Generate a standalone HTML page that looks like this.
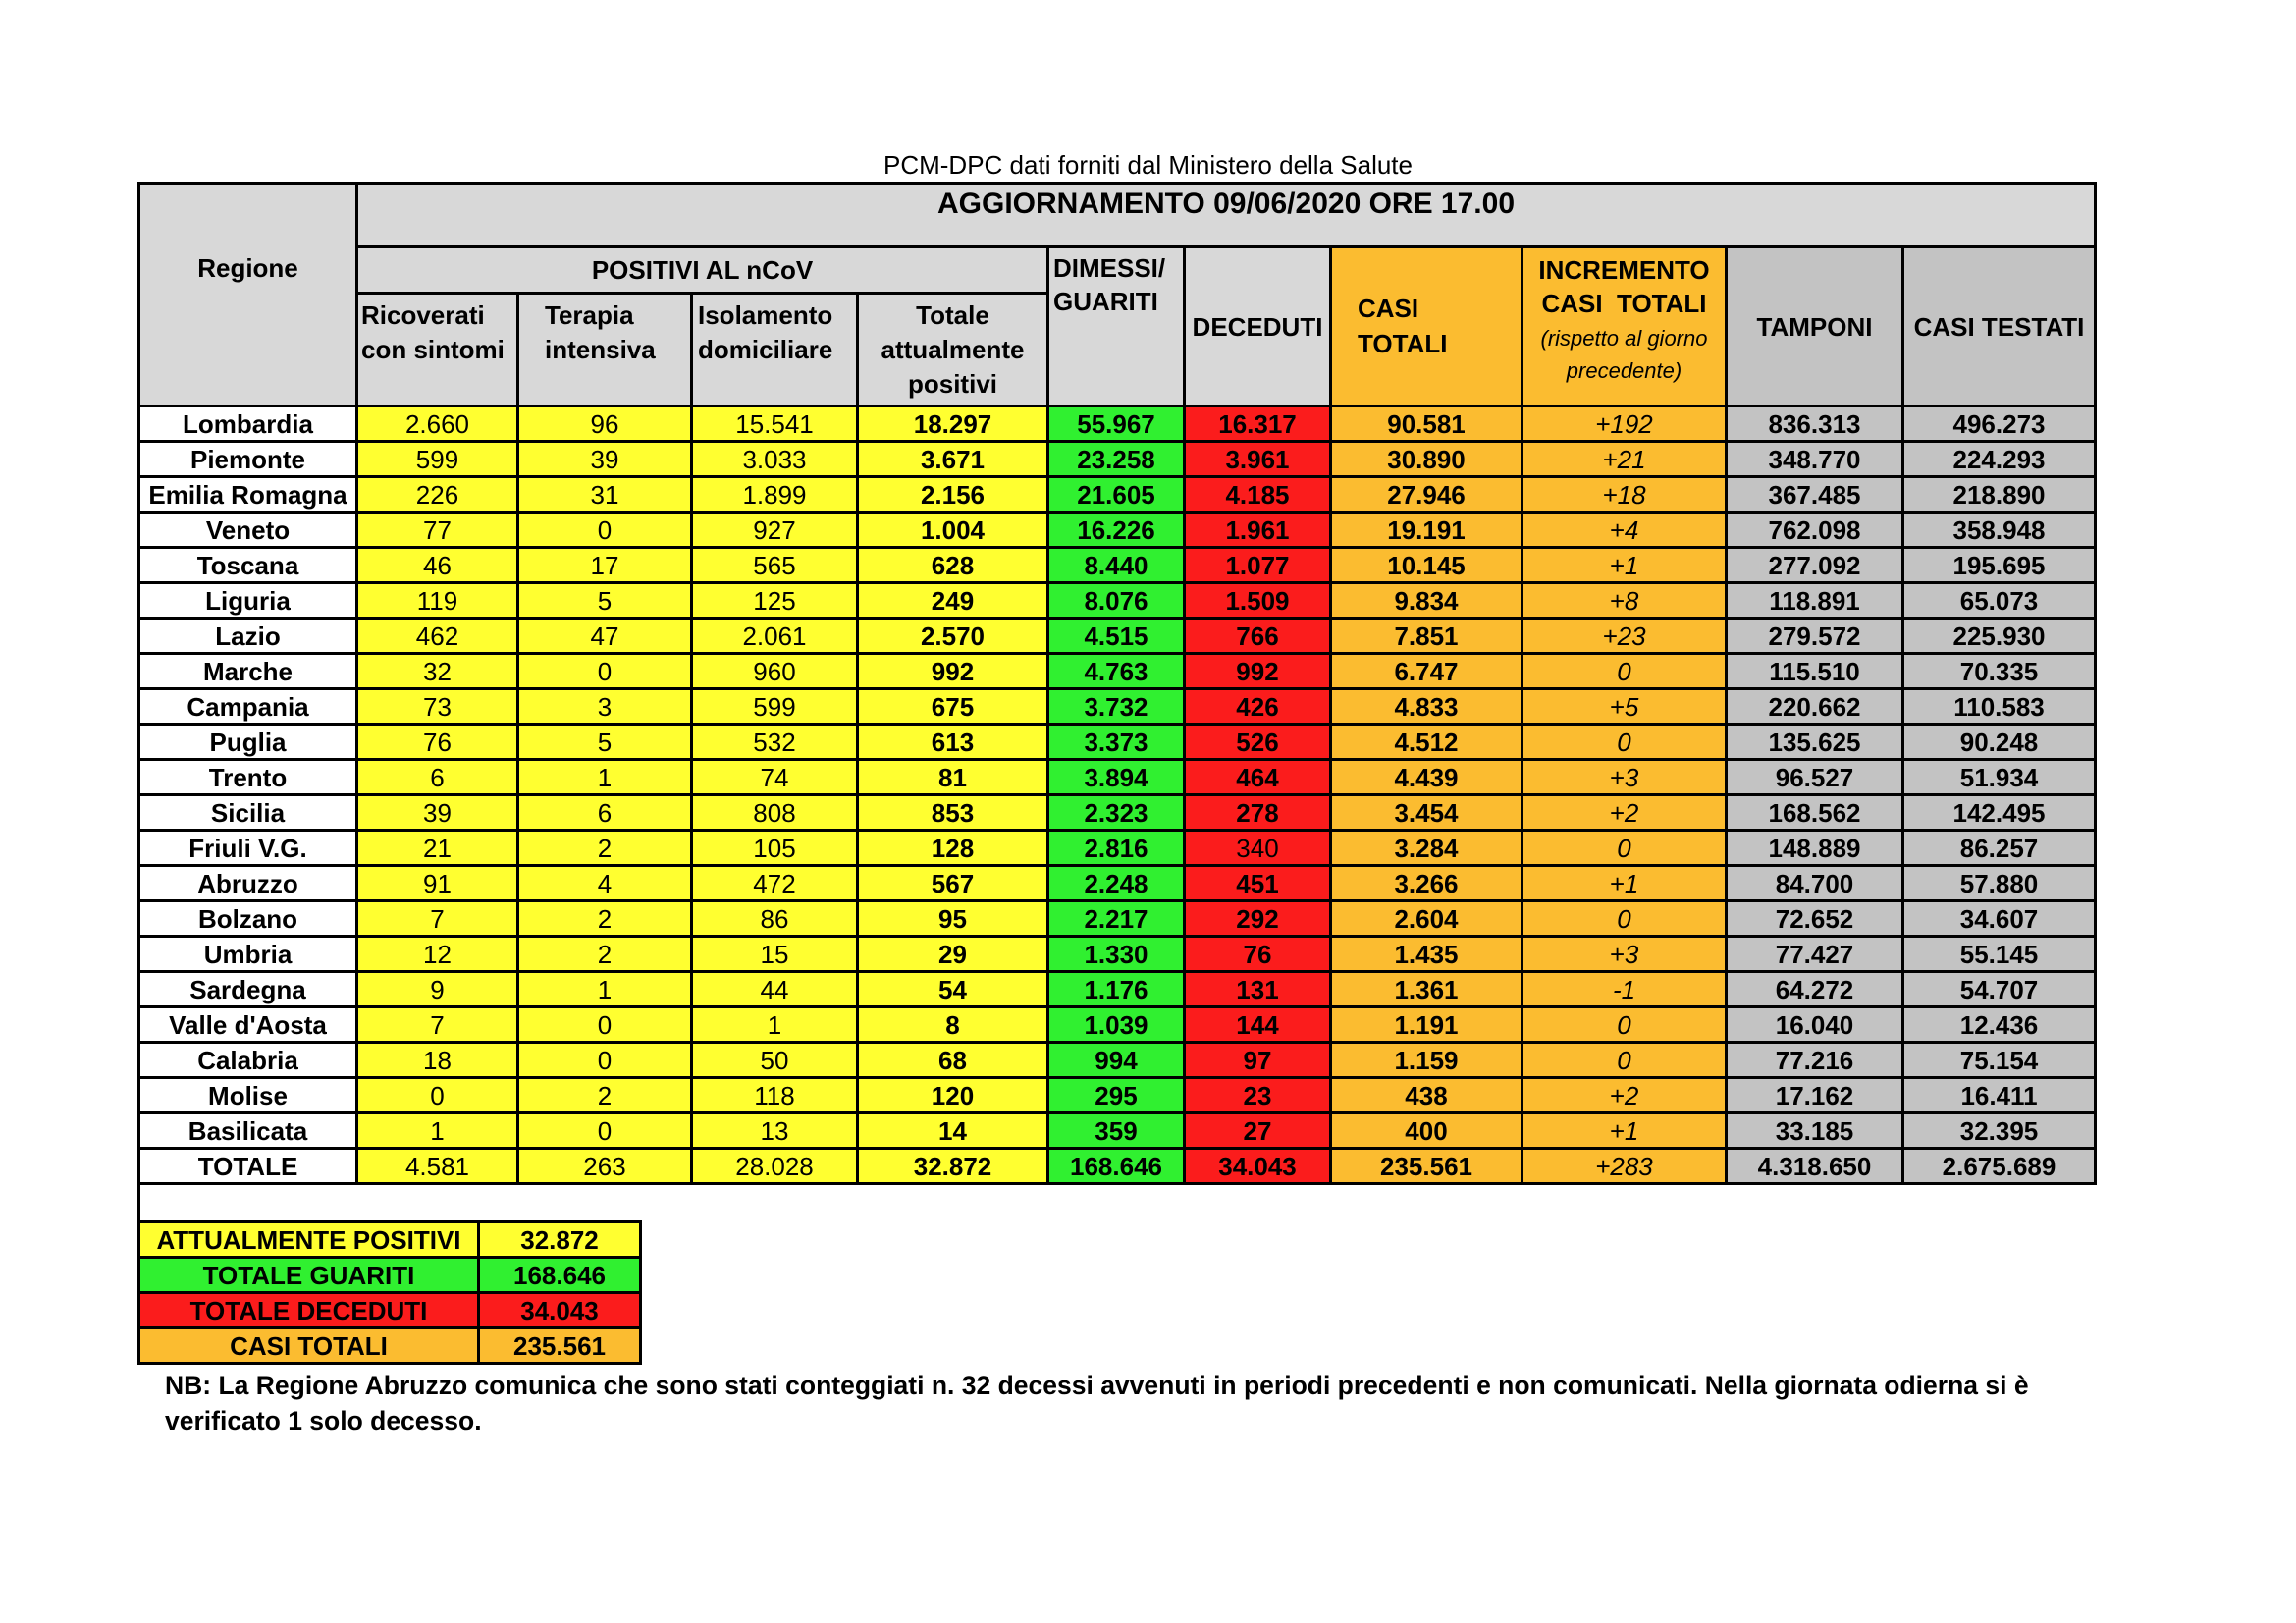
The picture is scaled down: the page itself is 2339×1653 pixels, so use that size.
<!DOCTYPE html>
<html><head><meta charset="utf-8"><style>
body{margin:0;width:2339px;height:1653px;background:#fff;position:relative;font-family:"Liberation Sans",Arial,sans-serif;overflow:hidden}
.t{position:absolute;white-space:nowrap}
table{position:absolute;left:140px;top:185px;border-collapse:collapse;table-layout:fixed}
td{border:3px solid #000;padding:0;text-align:center;font-size:26px;overflow:hidden;white-space:nowrap;line-height:1}
td span{display:inline-block}
.h{background:#d8d8d8;font-weight:bold;font-size:26px}
.g2{background:#c3c3c3}
.o{background:#fbbc30}
.y{background:#ffff30}
.gr{background:#30f030}
.r{background:#fb1c1c}
.b{font-weight:bold}
.i{font-style:italic}
tbody tr{height:36px}
.s td{height:33px;font-weight:bold;font-size:26px}
</style></head><body>
<div class="t" style="left:0;width:2339px;text-align:center;top:153px;font-size:26px">PCM-DPC dati forniti dal Ministero della Salute</div>
<table>
<colgroup><col style="width:222px"><col style="width:164px"><col style="width:177px"><col style="width:169px"><col style="width:194px"><col style="width:139px"><col style="width:149px"><col style="width:195px"><col style="width:208px"><col style="width:180px"><col style="width:196px"></colgroup>
<tr style="height:65px"><td class="h" rowspan="3" style="vertical-align:top;padding-top:72px"><span>Regione</span></td><td class="h" colspan="10" style="vertical-align:top;padding-top:5px;font-size:30px"><span>AGGIORNAMENTO 09/06/2020 ORE 17.00</span></td></tr>
<tr style="height:47px"><td class="h" colspan="4"><span>POSITIVI AL nCoV</span></td>
<td class="h" rowspan="2" style="text-align:left;vertical-align:top;padding:4px 4px;line-height:1.3;white-space:normal"><span>DIMESSI/<br>GUARITI</span></td>
<td class="h" rowspan="2"><span>DECEDUTI</span></td>
<td class="h o" rowspan="2" style="text-align:left;padding-left:26px;line-height:1.35;white-space:normal"><span>CASI<br>TOTALI</span></td>
<td class="h o" rowspan="2" style="vertical-align:top;padding-top:6px;line-height:1.3;white-space:normal"><span>INCREMENTO<br>CASI&nbsp; TOTALI<br><i style="font-weight:normal;font-size:22px">(rispetto al giorno<br>precedente)</i></span></td>
<td class="h g2" rowspan="2"><span>TAMPONI</span></td>
<td class="h g2" rowspan="2"><span>CASI TESTATI</span></td></tr>
<tr style="height:115px">
<td class="h" style="text-align:left;vertical-align:top;padding:4px 3px;line-height:1.35;white-space:normal"><span>Ricoverati<br>con sintomi</span></td>
<td class="h" style="text-align:left;vertical-align:top;padding:4px 26px;line-height:1.35;white-space:normal"><span>Terapia<br>intensiva</span></td>
<td class="h" style="text-align:left;vertical-align:top;padding:4px 5px;line-height:1.35;white-space:normal"><span>Isolamento<br>domiciliare</span></td>
<td class="h" style="vertical-align:top;padding-top:4px;line-height:1.35;white-space:normal"><span>Totale<br>attualmente<br>positivi</span></td></tr>
<tbody>
<tr><td class="b"><span>Lombardia</span></td><td class="y"><span>2.660</span></td><td class="y"><span>96</span></td><td class="y"><span>15.541</span></td><td class="y b"><span>18.297</span></td><td class="gr b"><span>55.967</span></td><td class="r b"><span>16.317</span></td><td class="o b"><span>90.581</span></td><td class="o i"><span>+192</span></td><td class="g2 b"><span>836.313</span></td><td class="g2 b"><span>496.273</span></td></tr>
<tr><td class="b"><span>Piemonte</span></td><td class="y"><span>599</span></td><td class="y"><span>39</span></td><td class="y"><span>3.033</span></td><td class="y b"><span>3.671</span></td><td class="gr b"><span>23.258</span></td><td class="r b"><span>3.961</span></td><td class="o b"><span>30.890</span></td><td class="o i"><span>+21</span></td><td class="g2 b"><span>348.770</span></td><td class="g2 b"><span>224.293</span></td></tr>
<tr><td class="b"><span>Emilia Romagna</span></td><td class="y"><span>226</span></td><td class="y"><span>31</span></td><td class="y"><span>1.899</span></td><td class="y b"><span>2.156</span></td><td class="gr b"><span>21.605</span></td><td class="r b"><span>4.185</span></td><td class="o b"><span>27.946</span></td><td class="o i"><span>+18</span></td><td class="g2 b"><span>367.485</span></td><td class="g2 b"><span>218.890</span></td></tr>
<tr><td class="b"><span>Veneto</span></td><td class="y"><span>77</span></td><td class="y"><span>0</span></td><td class="y"><span>927</span></td><td class="y b"><span>1.004</span></td><td class="gr b"><span>16.226</span></td><td class="r b"><span>1.961</span></td><td class="o b"><span>19.191</span></td><td class="o i"><span>+4</span></td><td class="g2 b"><span>762.098</span></td><td class="g2 b"><span>358.948</span></td></tr>
<tr><td class="b"><span>Toscana</span></td><td class="y"><span>46</span></td><td class="y"><span>17</span></td><td class="y"><span>565</span></td><td class="y b"><span>628</span></td><td class="gr b"><span>8.440</span></td><td class="r b"><span>1.077</span></td><td class="o b"><span>10.145</span></td><td class="o i"><span>+1</span></td><td class="g2 b"><span>277.092</span></td><td class="g2 b"><span>195.695</span></td></tr>
<tr><td class="b"><span>Liguria</span></td><td class="y"><span>119</span></td><td class="y"><span>5</span></td><td class="y"><span>125</span></td><td class="y b"><span>249</span></td><td class="gr b"><span>8.076</span></td><td class="r b"><span>1.509</span></td><td class="o b"><span>9.834</span></td><td class="o i"><span>+8</span></td><td class="g2 b"><span>118.891</span></td><td class="g2 b"><span>65.073</span></td></tr>
<tr><td class="b"><span>Lazio</span></td><td class="y"><span>462</span></td><td class="y"><span>47</span></td><td class="y"><span>2.061</span></td><td class="y b"><span>2.570</span></td><td class="gr b"><span>4.515</span></td><td class="r b"><span>766</span></td><td class="o b"><span>7.851</span></td><td class="o i"><span>+23</span></td><td class="g2 b"><span>279.572</span></td><td class="g2 b"><span>225.930</span></td></tr>
<tr><td class="b"><span>Marche</span></td><td class="y"><span>32</span></td><td class="y"><span>0</span></td><td class="y"><span>960</span></td><td class="y b"><span>992</span></td><td class="gr b"><span>4.763</span></td><td class="r b"><span>992</span></td><td class="o b"><span>6.747</span></td><td class="o i"><span>0</span></td><td class="g2 b"><span>115.510</span></td><td class="g2 b"><span>70.335</span></td></tr>
<tr><td class="b"><span>Campania</span></td><td class="y"><span>73</span></td><td class="y"><span>3</span></td><td class="y"><span>599</span></td><td class="y b"><span>675</span></td><td class="gr b"><span>3.732</span></td><td class="r b"><span>426</span></td><td class="o b"><span>4.833</span></td><td class="o i"><span>+5</span></td><td class="g2 b"><span>220.662</span></td><td class="g2 b"><span>110.583</span></td></tr>
<tr><td class="b"><span>Puglia</span></td><td class="y"><span>76</span></td><td class="y"><span>5</span></td><td class="y"><span>532</span></td><td class="y b"><span>613</span></td><td class="gr b"><span>3.373</span></td><td class="r b"><span>526</span></td><td class="o b"><span>4.512</span></td><td class="o i"><span>0</span></td><td class="g2 b"><span>135.625</span></td><td class="g2 b"><span>90.248</span></td></tr>
<tr><td class="b"><span>Trento</span></td><td class="y"><span>6</span></td><td class="y"><span>1</span></td><td class="y"><span>74</span></td><td class="y b"><span>81</span></td><td class="gr b"><span>3.894</span></td><td class="r b"><span>464</span></td><td class="o b"><span>4.439</span></td><td class="o i"><span>+3</span></td><td class="g2 b"><span>96.527</span></td><td class="g2 b"><span>51.934</span></td></tr>
<tr><td class="b"><span>Sicilia</span></td><td class="y"><span>39</span></td><td class="y"><span>6</span></td><td class="y"><span>808</span></td><td class="y b"><span>853</span></td><td class="gr b"><span>2.323</span></td><td class="r b"><span>278</span></td><td class="o b"><span>3.454</span></td><td class="o i"><span>+2</span></td><td class="g2 b"><span>168.562</span></td><td class="g2 b"><span>142.495</span></td></tr>
<tr><td class="b"><span>Friuli V.G.</span></td><td class="y"><span>21</span></td><td class="y"><span>2</span></td><td class="y"><span>105</span></td><td class="y b"><span>128</span></td><td class="gr b"><span>2.816</span></td><td class="r"><span>340</span></td><td class="o b"><span>3.284</span></td><td class="o i"><span>0</span></td><td class="g2 b"><span>148.889</span></td><td class="g2 b"><span>86.257</span></td></tr>
<tr><td class="b"><span>Abruzzo</span></td><td class="y"><span>91</span></td><td class="y"><span>4</span></td><td class="y"><span>472</span></td><td class="y b"><span>567</span></td><td class="gr b"><span>2.248</span></td><td class="r b"><span>451</span></td><td class="o b"><span>3.266</span></td><td class="o i"><span>+1</span></td><td class="g2 b"><span>84.700</span></td><td class="g2 b"><span>57.880</span></td></tr>
<tr><td class="b"><span>Bolzano</span></td><td class="y"><span>7</span></td><td class="y"><span>2</span></td><td class="y"><span>86</span></td><td class="y b"><span>95</span></td><td class="gr b"><span>2.217</span></td><td class="r b"><span>292</span></td><td class="o b"><span>2.604</span></td><td class="o i"><span>0</span></td><td class="g2 b"><span>72.652</span></td><td class="g2 b"><span>34.607</span></td></tr>
<tr><td class="b"><span>Umbria</span></td><td class="y"><span>12</span></td><td class="y"><span>2</span></td><td class="y"><span>15</span></td><td class="y b"><span>29</span></td><td class="gr b"><span>1.330</span></td><td class="r b"><span>76</span></td><td class="o b"><span>1.435</span></td><td class="o i"><span>+3</span></td><td class="g2 b"><span>77.427</span></td><td class="g2 b"><span>55.145</span></td></tr>
<tr><td class="b"><span>Sardegna</span></td><td class="y"><span>9</span></td><td class="y"><span>1</span></td><td class="y"><span>44</span></td><td class="y b"><span>54</span></td><td class="gr b"><span>1.176</span></td><td class="r b"><span>131</span></td><td class="o b"><span>1.361</span></td><td class="o i"><span>-1</span></td><td class="g2 b"><span>64.272</span></td><td class="g2 b"><span>54.707</span></td></tr>
<tr><td class="b"><span>Valle d'Aosta</span></td><td class="y"><span>7</span></td><td class="y"><span>0</span></td><td class="y"><span>1</span></td><td class="y b"><span>8</span></td><td class="gr b"><span>1.039</span></td><td class="r b"><span>144</span></td><td class="o b"><span>1.191</span></td><td class="o i"><span>0</span></td><td class="g2 b"><span>16.040</span></td><td class="g2 b"><span>12.436</span></td></tr>
<tr><td class="b"><span>Calabria</span></td><td class="y"><span>18</span></td><td class="y"><span>0</span></td><td class="y"><span>50</span></td><td class="y b"><span>68</span></td><td class="gr b"><span>994</span></td><td class="r b"><span>97</span></td><td class="o b"><span>1.159</span></td><td class="o i"><span>0</span></td><td class="g2 b"><span>77.216</span></td><td class="g2 b"><span>75.154</span></td></tr>
<tr><td class="b"><span>Molise</span></td><td class="y"><span>0</span></td><td class="y"><span>2</span></td><td class="y"><span>118</span></td><td class="y b"><span>120</span></td><td class="gr b"><span>295</span></td><td class="r b"><span>23</span></td><td class="o b"><span>438</span></td><td class="o i"><span>+2</span></td><td class="g2 b"><span>17.162</span></td><td class="g2 b"><span>16.411</span></td></tr>
<tr><td class="b"><span>Basilicata</span></td><td class="y"><span>1</span></td><td class="y"><span>0</span></td><td class="y"><span>13</span></td><td class="y b"><span>14</span></td><td class="gr b"><span>359</span></td><td class="r b"><span>27</span></td><td class="o b"><span>400</span></td><td class="o i"><span>+1</span></td><td class="g2 b"><span>33.185</span></td><td class="g2 b"><span>32.395</span></td></tr>
<tr><td class="b"><span>TOTALE</span></td><td class="y"><span>4.581</span></td><td class="y"><span>263</span></td><td class="y"><span>28.028</span></td><td class="y b"><span>32.872</span></td><td class="gr b"><span>168.646</span></td><td class="r b"><span>34.043</span></td><td class="o b"><span>235.561</span></td><td class="o i"><span>+283</span></td><td class="g2 b"><span>4.318.650</span></td><td class="g2 b"><span>2.675.689</span></td></tr>
</tbody></table>
<div style="position:absolute;left:140px;top:1207px;width:3px;height:40px;background:#000"></div>
<table style="top:1243px">
<colgroup><col style="width:346px"><col style="width:165px"></colgroup>
<tr class="s"><td class="y"><span>ATTUALMENTE POSITIVI</span></td><td class="y"><span>32.872</span></td></tr>
<tr class="s"><td class="gr"><span>TOTALE GUARITI</span></td><td class="gr"><span>168.646</span></td></tr>
<tr class="s"><td class="r"><span>TOTALE DECEDUTI</span></td><td class="r"><span>34.043</span></td></tr>
<tr class="s"><td class="o"><span>CASI TOTALI</span></td><td class="o"><span>235.561</span></td></tr>
</table>
<div class="t" style="left:168px;top:1393px;font-size:26.5px;font-weight:bold;line-height:36px">NB: La Regione Abruzzo comunica che sono stati conteggiati n. 32 decessi avvenuti in periodi precedenti e non comunicati. Nella giornata odierna si è<br>verificato 1 solo decesso.</div>
</body></html>
